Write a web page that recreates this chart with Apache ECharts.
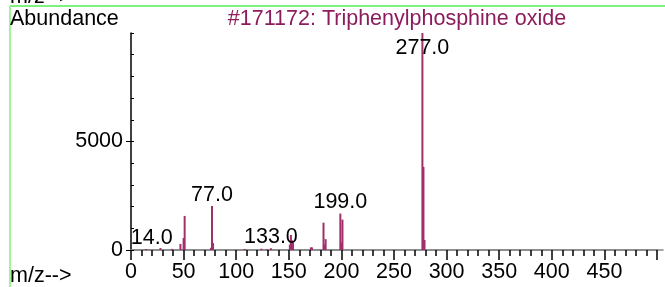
<!DOCTYPE html>
<html>
<head>
<meta charset="utf-8">
<script src="https://cdn.jsdelivr.net/npm/echarts@6/dist/echarts.min.js"></script>
<style>
  html, body { margin: 0; padding: 0; background: #fff; }
  #chart { width: 665px; height: 287px; }
</style>
</head>
<body>
<div id="chart"></div>
<script>
// m/z and abundance
const mzValues = [14, 15, 28, 39, 47, 50, 51, 76, 77, 78, 108, 124, 129, 133, 151, 152, 153, 154, 171, 172, 183, 184, 185, 199, 200, 201, 277, 278, 279];
const abundance = [40, 30, 90, 50, 280, 550, 1570, 100, 2030, 320, 50, 60, 40, 80, 250, 690, 450, 350, 120, 120, 1260, 250, 500, 1680, 350, 1400, 10000, 3830, 460];
const labelledPeaks = [14, 77, 133, 199, 277];
const xTicks = [0, 50, 100, 150, 200, 250, 300, 350, 400, 450];
const yTicks = [0, 5000];

const titleText = '#171172: Triphenylphosphine oxide';
const font = 'Liberation Sans, Arial, sans-serif';
const fs = 21.5;

const barData = mzValues.map((mz, i) => {
  const item = { value: [mz, abundance[i]] };
  if (labelledPeaks.includes(mz)) {
    item.label = {
      show: true,
      formatter: mz.toFixed(1),
      position: 'top',
      distance: 0,
      color: '#000',
      fontSize: fs,
      fontFamily: font
    };
    if (mz === 14) item.label.offset = [6, 0];
    if (mz === 277) item.label.offset = [0, 26];
  }
  return item;
});

const chart = echarts.init(document.getElementById('chart'));
const option = {
  animation: false,
  grid: [
    { left: 131, right: 8, top: 33, bottom: 37 },
    { left: 131, right: 2, top: 33, bottom: 37 },
    { left: 131, right: 8, top: 141.5, bottom: 37 }
  ],
  xAxis: [
    {
      gridIndex: 0,
      type: 'value',
      min: 0,
      max: 500,
      interval: 50,
      axisLine: { lineStyle: { color: '#888', width: 1.5 } },
      axisTick: { length: 10, lineStyle: { color: '#000', width: 1.5 } },
      minorTick: { show: true, splitNumber: 5, length: 6, lineStyle: { color: '#000', width: 1.5 } },
      splitLine: { show: false },
      axisLabel: {
        margin: 11,
        fontSize: fs,
        fontFamily: font,
        color: '#000',
        formatter: v => xTicks.includes(v) ? String(v) : ''
      }
    },
    {
      gridIndex: 1,
      type: 'value',
      min: 0,
      max: 505,
      axisLine: { lineStyle: { color: '#888', width: 1.5 } },
      axisTick: { show: false },
      splitLine: { show: false },
      axisLabel: { show: false }
    },
    { gridIndex: 2, type: 'value', show: false, min: 0, max: 500 }
  ],
  yAxis: [
    {
      gridIndex: 0,
      type: 'value',
      min: 0,
      max: 10000,
      interval: 1000,
      axisLine: { show: true, lineStyle: { color: '#000', width: 1.5 } },
      axisTick: { show: true, inside: true, length: 3, lineStyle: { color: '#000' } },
      splitLine: { show: false },
      axisLabel: { show: false }
    },
    { gridIndex: 1, type: 'value', show: false, min: 0, max: 10000 },
    {
      gridIndex: 2,
      type: 'value',
      min: 0,
      max: 5000,
      interval: 5000,
      axisLine: { show: false },
      axisTick: { show: true, length: 5, lineStyle: { color: '#000' } },
      splitLine: { show: false },
      axisLabel: {
        margin: 8,
        fontSize: fs,
        fontFamily: font,
        color: '#000',
        formatter: v => yTicks.includes(v) ? String(v) : ''
      }
    }
  ],
  series: [
    {
      type: 'bar',
      xAxisIndex: 0,
      yAxisIndex: 0,
      barWidth: 2,
      itemStyle: { color: '#a0306b' },
      data: barData
    }
  ],
  graphic: [
    { type: 'line', shape: { x1: 10, y1: 6, x2: 665, y2: 6 }, style: { stroke: '#80f080', lineWidth: 2 } },
    { type: 'line', shape: { x1: 10, y1: 6, x2: 10, y2: 287 }, style: { stroke: '#80f080', lineWidth: 1.5 } },
    { type: 'text', left: 10, top: -14, style: { text: 'm/z-->', font: fs + 'px ' + font, fill: '#000' } },
    { type: 'text', left: 10, top: 8, style: { text: 'Abundance', font: fs + 'px ' + font, fill: '#000' } },
    { type: 'text', x: 397, y: 8, style: { text: titleText, font: fs + 'px ' + font, fill: '#8c1c5c', textAlign: 'center' } },
    { type: 'text', left: 10, top: 265, style: { text: 'm/z-->', font: fs + 'px ' + font, fill: '#000' } }
  ]
};
chart.setOption(option);
</script>
</body>
</html>
